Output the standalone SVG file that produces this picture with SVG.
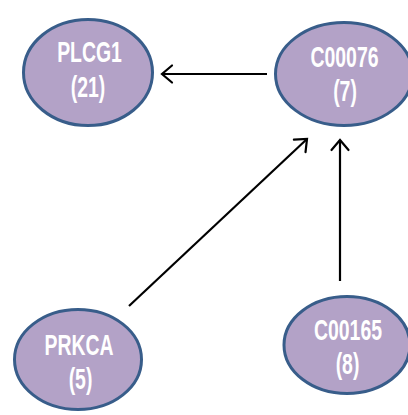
<svg xmlns="http://www.w3.org/2000/svg" width="408" height="415" viewBox="0 0 408 415">
  <style>
    .node ellipse { fill: #B3A2C7; stroke: #385D8A; stroke-width: 3; }
    .node text { fill: #FFFFFF; font-family: "Liberation Sans", Arial, sans-serif; font-weight: bold; font-size: 29px; text-anchor: middle; }
    .edge { stroke: #000000; stroke-width: 2.2; fill: none; marker-end: url(#arrow); }
  </style>
  <defs>
    <marker id="arrow" markerUnits="userSpaceOnUse" markerWidth="24" markerHeight="24" refX="0" refY="0" viewBox="-12 -12 24 24" orient="auto" overflow="visible">
      <path d="M-10,-8.5 L0,0 L-10,8.5" fill="none" stroke="#000000" stroke-width="2.2" stroke-linecap="round" stroke-linejoin="miter"/>
    </marker>
  </defs>

  <rect width="408" height="415" fill="#FFFFFF"/>

  <g id="connectors">
    <line class="edge" x1="267" y1="74" x2="162" y2="74"/>
    <line class="edge" x1="129" y1="306" x2="307" y2="139"/>
    <line class="edge" x1="340" y1="281" x2="340" y2="140"/>
  </g>

  <g id="node-PLCG1" class="node">
    <ellipse cx="88" cy="72.5" rx="64.5" ry="53"/>
    <text transform="translate(89.5 61.5) scale(0.67 1)">PLCG1</text>
    <text transform="translate(88 96.5) scale(0.67 1)">(21)</text>
  </g>

  <g id="node-C00076" class="node">
    <ellipse cx="344" cy="74" rx="68.5" ry="51.5"/>
    <text transform="translate(344.5 67) scale(0.67 1)">C00076</text>
    <text transform="translate(345 101) scale(0.67 1)">(7)</text>
  </g>

  <g id="node-PRKCA" class="node">
    <ellipse cx="78" cy="359.5" rx="63.5" ry="50"/>
    <text transform="translate(79 355) scale(0.67 1)">PRKCA</text>
    <text transform="translate(80.5 388.5) scale(0.67 1)">(5)</text>
  </g>

  <g id="node-C00165" class="node">
    <ellipse cx="347" cy="345" rx="63" ry="48.5"/>
    <text transform="translate(348 340) scale(0.67 1)">C00165</text>
    <text transform="translate(347.5 373.5) scale(0.67 1)">(8)</text>
  </g>
</svg>
